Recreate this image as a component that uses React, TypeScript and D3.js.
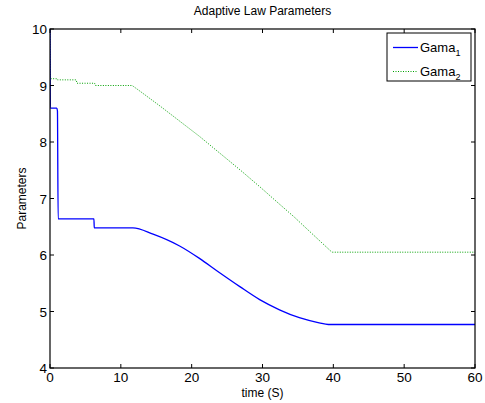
import React from "react";
import * as d3 from "d3";

const xTicks = [0, 10, 20, 30, 40, 50, 60];
const yTicks = [4, 5, 6, 7, 8, 9, 10];

const gama1T = [0, 0.05, 0.95, 1.05, 1.15, 6.2, 6.25, 11.7, 14.55, 18.3, 21.1, 23.9, 26.8, 29.6, 32.4, 35.2, 38.0, 39.3, 60];
const gama1V = [10, 8.6, 8.6, 8.55, 6.64, 6.64, 6.48, 6.48, 6.37, 6.16, 5.94, 5.69, 5.44, 5.21, 5.03, 4.89, 4.8, 4.77, 4.77];

const gama2T = [0, 0.05, 1.0, 1.05, 3.7, 3.8, 6.3, 6.4, 11.6, 12.7, 15.5, 18.3, 21.1, 23.9, 26.8, 29.6, 32.4, 34.5, 36.2, 39.8, 60];
const gama2V = [10, 9.12, 9.12, 9.1, 9.1, 9.04, 9.04, 9.0, 9.0, 8.9, 8.64, 8.37, 8.1, 7.81, 7.51, 7.21, 6.9, 6.67, 6.47, 6.05, 6.05];

export default function App() {
  const W = 485, H = 403;
  const left = 50, right = 475, top = 29, bottom = 368;
  const x = d3.scaleLinear().domain([0, 60]).range([left, right]);
  const y = d3.scaleLinear().domain([4, 10]).range([bottom, top]);
  const line1 = d3.line<[number, number]>().x(d => x(d[0])).y(d => y(d[1])).curve(d3.curveMonotoneX);
  const line2 = d3.line<[number, number]>().x(d => x(d[0])).y(d => y(d[1]));
  const d1 = line1(gama1T.map((t, i) => [t, gama1V[i]]))!;
  const d2 = line2(gama2T.map((t, i) => [t, gama2V[i]]))!;
  const font = "Liberation Sans, Arial, Helvetica, sans-serif";
  const tl = 4;
  return (
    <svg width={W} height={H} style={{ position: "absolute", left: 0, top: 0 }} fontFamily={font}>
      <rect x={0} y={0} width={W} height={H} fill="#fff" />
      <defs>
        <clipPath id="clip"><rect x={left} y={top} width={right - left} height={bottom - top} /></clipPath>
      </defs>
      <g clipPath="url(#clip)">
        <path d={d2} fill="none" stroke="#00a000" strokeWidth={1} strokeDasharray="1,1.5" />
        <path d={d1} fill="none" stroke="#0000ff" strokeWidth={1.3} />
      </g>
      <rect x={left} y={top} width={right - left} height={bottom - top} fill="none" stroke="#000" strokeWidth={1.2} />
      {xTicks.map(t => (
        <g key={"x" + t}>
          <line x1={x(t)} x2={x(t)} y1={bottom} y2={bottom - tl} stroke="#000" />
          <line x1={x(t)} x2={x(t)} y1={top} y2={top + tl} stroke="#000" />
          <text x={x(t)} y={bottom + 14} textAnchor="middle" fontSize={13.5}>{t}</text>
        </g>
      ))}
      {yTicks.map(v => (
        <g key={"y" + v}>
          <line x1={left} x2={left + tl} y1={y(v)} y2={y(v)} stroke="#000" />
          <line x1={right} x2={right - tl} y1={y(v)} y2={y(v)} stroke="#000" />
          <text x={left - 3} y={y(v) + 5} textAnchor="end" fontSize={13.5}>{v}</text>
        </g>
      ))}
      <text x={(left + right) / 2} y={15} textAnchor="middle" fontSize={12}>Adaptive Law Parameters</text>
      <text x={(left + right) / 2} y={397} textAnchor="middle" fontSize={12}>time (S)</text>
      <text transform={`translate(26,${(top + bottom) / 2}) rotate(-90)`} textAnchor="middle" fontSize={12}>Parameters</text>
      <g>
        <rect x={387} y={33} width={84} height={48} fill="#fff" stroke="#000" strokeWidth={1} />
        <line x1={393} x2={418} y1={47.5} y2={47.5} stroke="#0000ff" strokeWidth={1.3} />
        <line x1={393} x2={418} y1={71.5} y2={71.5} stroke="#00a000" strokeWidth={1} strokeDasharray="1,1.5" />
        <text x={420} y={52} fontSize={13}>Gama<tspan fontSize={9} dy={4}>1</tspan></text>
        <text x={420} y={76} fontSize={13}>Gama<tspan fontSize={9} dy={4}>2</tspan></text>
      </g>
    </svg>
  );
}
